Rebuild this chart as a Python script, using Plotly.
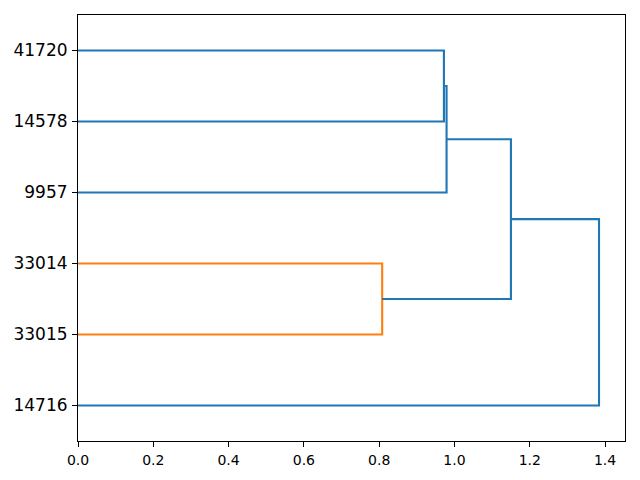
import plotly.graph_objects as go

# Leaf labels, bottom to top (dendrogram orientation = left)
leaf_labels = ["14716", "33015", "33014", "9957", "14578", "41720"]

# Merges: (child A, child B, merge height)
merge_a = ["41720", "c0", "33014", "c1", "c3"]
merge_b = ["14578", "9957", "33015", "c2", "14716"]
merge_height = [0.972, 0.979, 0.808, 1.150, 1.384]
merge_color = ["#1f77b4", "#1f77b4", "#ff7f0e", "#1f77b4", "#1f77b4"]

x_ticks = [0.0, 0.2, 0.4, 0.6, 0.8, 1.0, 1.2, 1.4]

# node positions
node_y = {lab: 5 + 10 * i for i, lab in enumerate(leaf_labels)}
node_x = {lab: 0.0 for lab in leaf_labels}

fig = go.Figure()
for i, (a, b, h) in enumerate(zip(merge_a, merge_b, merge_height)):
    ya, yb = node_y[a], node_y[b]
    xa, xb = node_x[a], node_x[b]
    fig.add_trace(go.Scatter(
        x=[xa, h, h, xb], y=[ya, ya, yb, yb], mode="lines",
        line=dict(color=merge_color[i], width=2.1),
        showlegend=False, hoverinfo="skip"))
    node_y["c%d" % i] = (ya + yb) / 2
    node_x["c%d" % i] = h

axis_common = dict(showline=True, linecolor="black", linewidth=1.1, mirror=True,
                   ticks="outside", ticklen=5, tickwidth=1.1, tickcolor="black",
                   showgrid=False, zeroline=False, automargin=False)

fig.update_xaxes(range=[0, 1.453], tickvals=x_ticks,
                 ticktext=["%.1f" % v for v in x_ticks],
                 tickfont=dict(family="DejaVu Sans", size=14, color="black"),
                 ticklabelstandoff=1, **axis_common)
fig.update_yaxes(range=[0, 60], tickvals=[node_y[l] for l in leaf_labels],
                 ticktext=leaf_labels,
                 tickfont=dict(family="DejaVu Sans", size=17, color="black"),
                 ticklabelstandoff=1, **axis_common)

fig.update_layout(width=640, height=480,
                  margin=dict(l=78, r=15, t=15, b=39),
                  plot_bgcolor="white", paper_bgcolor="white",
                  font=dict(family="DejaVu Sans"))

fig.write_html("out.html", config={"displayModeBar": False},
               post_script="document.body.style.margin='0px';")
